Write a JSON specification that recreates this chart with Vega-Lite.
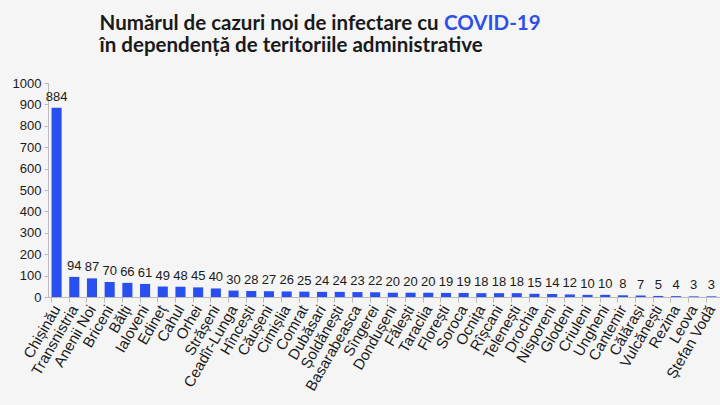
{
  "$schema": "https://vega.github.io/schema/vega-lite/v6.json",
  "autosize": "none",
  "width": 672,
  "height": 214,
  "padding": {"left": 48, "top": 83, "right": 0, "bottom": 108},
  "background": "#f5f5f5",
  "config": {
    "view": {"stroke": null},
    "axisX": {
      "title": null,
      "labelAngle": -60,
      "labelAlign": "right",
      "labelBaseline": "middle",
      "labelFont": "Liberation Sans",
      "labelFontSize": 15,
      "labelColor": "#1a1a1a",
      "labelPadding": 4,
      "bandPosition": 0,
      "tickColor": "#bbbbbb",
      "tickSize": 5,
      "domainColor": "#bbbbbb",
      "labelOverlap": false
    },
    "axisY": {
      "title": null,
      "format": "d",
      "grid": false,
      "labelFont": "Liberation Sans",
      "labelFontSize": 13,
      "labelColor": "#1a1a1a",
      "tickColor": "#bbbbbb",
      "tickSize": 4,
      "domainColor": "#bbbbbb",
      "labelPadding": 3
    }
  },
  "datasets": {
    "cases": [
      {"region": "Chișinău", "cases": 884},
      {"region": "Transnistria", "cases": 94},
      {"region": "Anenii Noi", "cases": 87},
      {"region": "Briceni", "cases": 70},
      {"region": "Bălți", "cases": 66},
      {"region": "Ialoveni", "cases": 61},
      {"region": "Edineț", "cases": 49},
      {"region": "Cahul", "cases": 48},
      {"region": "Orhei", "cases": 45},
      {"region": "Strășeni", "cases": 40},
      {"region": "Ceadîr-Lunga", "cases": 30},
      {"region": "Hîncești", "cases": 28},
      {"region": "Căușeni", "cases": 27},
      {"region": "Cimișlia", "cases": 26},
      {"region": "Comrat", "cases": 25},
      {"region": "Dubăsari", "cases": 24},
      {"region": "Șoldănești", "cases": 24},
      {"region": "Basarabeasca", "cases": 23},
      {"region": "Sîngerei", "cases": 22},
      {"region": "Dondușeni", "cases": 20},
      {"region": "Fălești", "cases": 20},
      {"region": "Taraclia", "cases": 20},
      {"region": "Florești", "cases": 19},
      {"region": "Soroca", "cases": 19},
      {"region": "Ocnița", "cases": 18},
      {"region": "Rîșcani", "cases": 18},
      {"region": "Telenești", "cases": 18},
      {"region": "Drochia", "cases": 15},
      {"region": "Nisporeni", "cases": 14},
      {"region": "Glodeni", "cases": 12},
      {"region": "Criuleni", "cases": 10},
      {"region": "Ungheni", "cases": 10},
      {"region": "Cantemir", "cases": 8},
      {"region": "Călărași", "cases": 7},
      {"region": "Vulcănești", "cases": 5},
      {"region": "Rezina", "cases": 4},
      {"region": "Leova", "cases": 3},
      {"region": "Ștefan Vodă", "cases": 3}
    ],
    "titles": [
      {"line1": "Numărul de cazuri noi de infectare cu", "highlight": "COVID-19", "line2": "în dependență de teritoriile administrative"}
    ]
  },
  "layer": [
    {
      "data": {"name": "cases"},
      "mark": {"type": "bar", "color": "#2a4ff0"},
      "encoding": {
        "x": {
          "field": "region",
          "type": "nominal",
          "sort": null,
          "scale": {"paddingInner": 0.43, "paddingOuter": 0.2}
        },
        "y": {
          "field": "cases",
          "type": "quantitative",
          "scale": {"domain": [0, 1000]},
          "axis": {"values": [0, 100, 200, 300, 400, 500, 600, 700, 800, 900, 1000]}
        }
      }
    },
    {
      "data": {"name": "cases"},
      "mark": {"type": "text", "dy": -11, "font": "Liberation Sans", "fontSize": 13, "color": "#1a1a1a"},
      "encoding": {
        "x": {"field": "region", "type": "nominal", "sort": null},
        "y": {"field": "cases", "type": "quantitative", "axis": {"values": [0, 100, 200, 300, 400, 500, 600, 700, 800, 900, 1000]}},
        "text": {"field": "cases", "type": "quantitative"}
      }
    },
    {
      "data": {"name": "titles"},
      "mark": {"type": "text", "clip": false, "font": "Lato", "fontSize": 20.5, "fontWeight": "bold", "color": "#1a1a1a", "align": "left", "baseline": "alphabetic", "dx": 43},
      "encoding": {
        "x": {"datum": "Chișinău", "type": "nominal"},
        "y": {"datum": 1248, "type": "quantitative", "axis": {"values": [0, 100, 200, 300, 400, 500, 600, 700, 800, 900, 1000]}},
        "text": {"field": "line1", "type": "nominal"}
      }
    },
    {
      "data": {"name": "titles"},
      "mark": {"type": "text", "clip": false, "font": "Lato", "fontSize": 20.5, "fontWeight": "bold", "color": "#2f50e8", "align": "left", "baseline": "alphabetic", "dx": -2},
      "encoding": {
        "x": {"datum": "Florești", "type": "nominal"},
        "y": {"datum": 1248, "type": "quantitative", "axis": {"values": [0, 100, 200, 300, 400, 500, 600, 700, 800, 900, 1000]}},
        "text": {"field": "highlight", "type": "nominal"}
      }
    },
    {
      "data": {"name": "titles"},
      "mark": {"type": "text", "clip": false, "font": "Lato", "fontSize": 20.5, "fontWeight": "bold", "color": "#1a1a1a", "align": "left", "baseline": "alphabetic", "dx": 43},
      "encoding": {
        "x": {"datum": "Chișinău", "type": "nominal"},
        "y": {"datum": 1145, "type": "quantitative", "axis": {"values": [0, 100, 200, 300, 400, 500, 600, 700, 800, 900, 1000]}},
        "text": {"field": "line2", "type": "nominal"}
      }
    }
  ]
}
